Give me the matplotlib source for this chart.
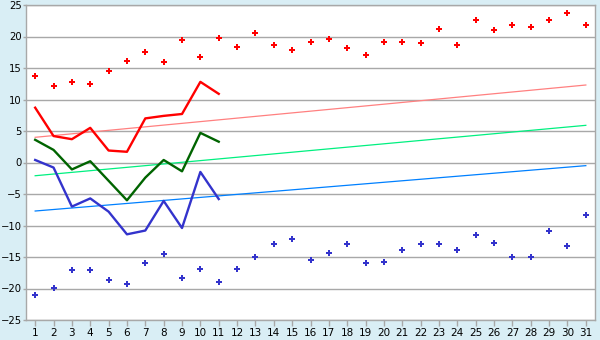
import matplotlib
matplotlib.use("Agg")
import matplotlib.pyplot as plt

days = list(range(1, 32))
record_max = [13.7, 12.1, 12.8, 12.4, 14.5, 16.1, 17.5, 15.9, 19.4, 16.7, 19.7,
              18.3, 20.5, 18.6, 17.8, 19.1, 19.6, 18.2, 17.0, 19.1, 19.1, 19.0,
              21.2, 18.6, 22.6, 21.0, 21.8, 21.5, 22.6, 23.7, 21.8]
record_min = [-21.0, -19.9, -17.1, -17.1, -18.7, -19.3, -16.0, -14.5, -18.3, -16.9, -19.0,
              -16.9, -15.0, -13.0, -12.2, -15.5, -14.4, -13.0, -16.0, -15.8, -13.9, -13.0,
              -13.0, -13.9, -11.5, -12.8, -15.0, -15.0, -10.9, -13.3, -8.3]
obs_days = list(range(1, 12))
tmax = [8.7, 4.2, 3.7, 5.5, 1.9, 1.7, 7.0, 7.4, 7.7, 12.8, 10.9]
tmean = [3.6, 2.0, -1.1, 0.2, -2.9, -6.0, -2.4, 0.4, -1.4, 4.7, 3.3]
tmin = [0.4, -0.8, -7.0, -5.7, -7.8, -11.4, -10.8, -6.1, -10.4, -1.5, -5.8]
trend_x = [1, 31]
norm_max = [4.0, 12.3]
norm_mean = [-2.1, 5.9]
norm_min = [-7.7, -0.5]
yticks = list(range(-25, 30, 5))

bg = "#d9eef5"
fig = plt.figure(figsize=(6, 3.4), dpi=100, facecolor=bg)
ax = fig.add_axes([26/600, 1-320/340, (595-26)/600, (320-5)/340])
ax.set_facecolor("white")

ax.plot(trend_x, norm_max, color="#ff8080", lw=0.9, zorder=2)
ax.plot(trend_x, norm_mean, color="#00f080", lw=0.9, zorder=2)
ax.plot(trend_x, norm_min, color="#0080ff", lw=0.9, zorder=2)

ax.plot(obs_days, tmax, color="#ff0000", lw=1.7, zorder=3)
ax.plot(obs_days, tmean, color="#006400", lw=1.7, zorder=3)
ax.plot(obs_days, tmin, color="#3333cc", lw=1.7, zorder=3)

ax.plot(days, record_max, linestyle="none", marker="P", ms=5, color="#ff0000",
        markeredgewidth=0, zorder=4)
ax.plot(days, record_min, linestyle="none", marker="P", ms=5, color="#3333cc",
        markeredgewidth=0, zorder=4)

ax.set_xlim(0.5, 31.5)
ax.set_ylim(-25, 25)
ax.set_yticks(yticks)
ax.set_xticks(days)
ax.set_xticklabels([str(d) for d in days])
ax.grid(axis="y", color="#a8a8a8", lw=1.0)
ax.set_axisbelow(True)
for s in ax.spines.values():
    s.set_color("#a8a8a8")
    s.set_linewidth(1.0)
ax.tick_params(axis="both", colors="#a8a8a8", labelcolor="black", labelsize=7.5,
               length=4, width=1, direction="out", pad=1.5)
ax.tick_params(axis="y", length=2, pad=1, labelsize=7.2)

fig.savefig("out.png", dpi=100, facecolor=bg)
